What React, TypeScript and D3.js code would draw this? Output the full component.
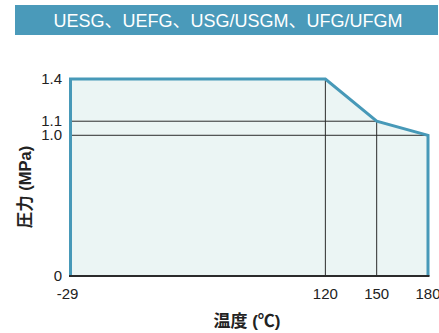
import React from "react";
import * as d3 from "d3";

const TITLE = "UESG、UEFG、USG/USGM、UFG/UFGM";
const temps = [-29, 120, 150, 180];
const pressures = [1.4, 1.4, 1.1, 1.0];
const xTicks = [-29, 120, 150, 180];
const yTicks = [0, 1.0, 1.1, 1.4];
const yTickLabels = ["0", "1.0", "1.1", "1.4"];
const X_TITLE = "温度 (℃)";
const Y_TITLE = "圧力 (MPa)";

const W = 439;
const H = 333;
const FONT = "Liberation Sans, Arial, Noto Sans CJK JP, sans-serif";

export default function App() {
  const x = d3.scaleLinear().domain([-29, 180]).range([70.5, 428]);
  const y = d3.scaleLinear().domain([0, 1.4]).range([276, 79]);

  const pts: [number, number][] = temps.map((t, i) => [t, pressures[i]]);
  const area = d3
    .area<[number, number]>()
    .x((d) => x(d[0]))
    .y0(y(0))
    .y1((d) => y(d[1]));
  const line = d3
    .line<[number, number]>()
    .x((d) => x(d[0]))
    .y((d) => y(d[1]));
  const outline: [number, number][] = [[-29, 0], ...pts, [180, 0]];

  const blue = "#4799b8";
  const dark = "#2b2b2b";

  return (
    <svg
      width={W}
      height={H}
      style={{ position: "absolute", left: 0, top: 0, background: "#fff" }}
    >
      <rect x={15} y={5} width={423} height={30} fill="#4a9aba" />
      <text
        x={228}
        y={27}
        textAnchor="middle"
        fill="#fff"
        fontSize={18}
        style={{ fontFamily: FONT }}
      >
        {TITLE}
      </text>

      <path d={area(pts) || ""} fill="#ebf5f4" />

      <line x1={x(-29)} x2={x(150)} y1={y(1.1)} y2={y(1.1)} stroke={dark} strokeWidth={1} />
      <line x1={x(-29)} x2={x(180)} y1={y(1.0)} y2={y(1.0)} stroke={dark} strokeWidth={1} />
      <line x1={x(120)} x2={x(120)} y1={y(1.4)} y2={y(0)} stroke={dark} strokeWidth={1} />
      <line x1={x(150)} x2={x(150)} y1={y(1.1)} y2={y(0)} stroke={dark} strokeWidth={1} />

      <path
        d={line(outline) || ""}
        fill="none"
        stroke={blue}
        strokeWidth={3}
        strokeLinejoin="miter"
      />
      <line x1={x(-29) - 1.5} x2={x(180) + 1.5} y1={y(0)} y2={y(0)} stroke={dark} strokeWidth={2} />

      {yTicks.map((v, i) => (
        <text
          key={"y" + i}
          x={62}
          y={y(v) + 5}
          textAnchor="end"
          fontSize={15}
          fill="#222"
          style={{ fontFamily: FONT }}
        >
          {yTickLabels[i]}
        </text>
      ))}
      {xTicks.map((v, i) => (
        <text
          key={"x" + i}
          x={x(v) - (i === 0 ? 3 : 0)}
          y={299}
          textAnchor="middle"
          fontSize={15}
          fill="#222"
          style={{ fontFamily: FONT }}
        >
          {v}
        </text>
      ))}

      <text
        x={247}
        y={327}
        textAnchor="middle"
        fontSize={17}
        fontWeight="bold"
        fill="#222"
        style={{ fontFamily: FONT }}
      >
        {X_TITLE}
      </text>
      <text
        transform={`translate(31,187) rotate(-90)`}
        textAnchor="middle"
        fontSize={16.5}
        fontWeight="bold"
        fill="#222"
        style={{ fontFamily: FONT }}
      >
        {Y_TITLE}
      </text>
    </svg>
  );
}
